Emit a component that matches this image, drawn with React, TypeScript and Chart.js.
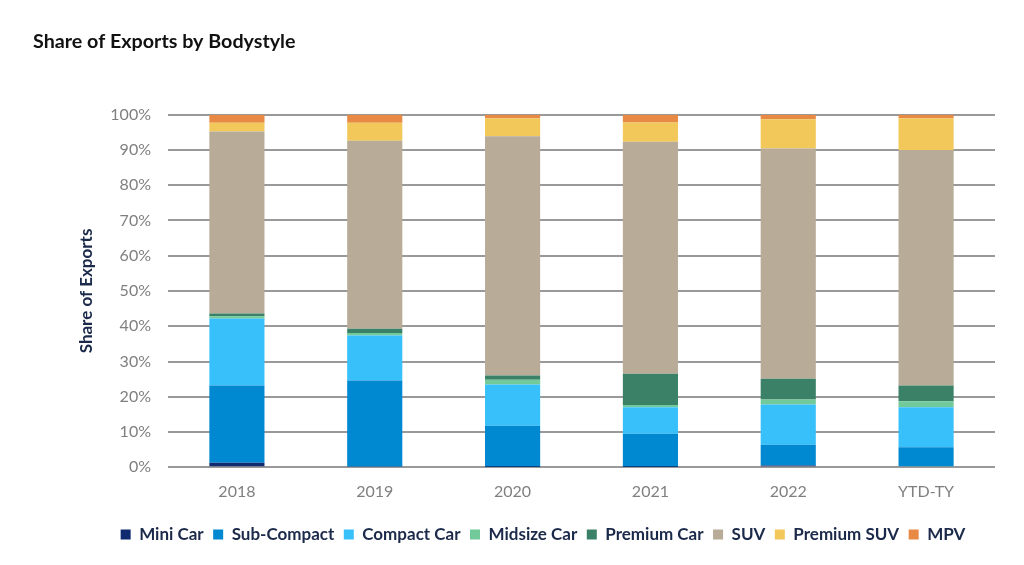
import React, { useEffect, useRef } from "react";
import { Chart, registerables } from "chart.js";

Chart.register(...registerables);

const categories = ["2018", "2019", "2020", "2021", "2022", "YTD-TY"];
const miniCar = [1.3, 0.2, 0.1, 0.1, 0.5, 0.3];
const subCompact = [21.9, 24.4, 11.7, 9.4, 5.9, 5.4];
const compactCar = [19.0, 12.8, 11.7, 7.5, 11.4, 11.3];
const midsizeCar = [0.6, 0.7, 1.3, 0.7, 1.4, 1.7];
const premiumCar = [0.8, 1.2, 1.2, 8.8, 5.9, 4.5];
const suv = [51.6, 53.3, 67.9, 65.8, 65.3, 66.8];
const premiumSuv = [2.5, 5.1, 5.1, 5.5, 8.3, 9.0];
const mpv = [2.3, 2.3, 1.0, 2.2, 1.3, 1.0];

const seriesNames = ["Mini Car", "Sub-Compact", "Compact Car", "Midsize Car", "Premium Car", "SUV", "Premium SUV", "MPV"];
const seriesValues = [miniCar, subCompact, compactCar, midsizeCar, premiumCar, suv, premiumSuv, mpv];
const seriesColors = ["#0f2a6e", "#0088d1", "#38c0fb", "#72c99a", "#3a8167", "#b8ab98", "#f2c85b", "#e88a44"];

const legendShift = {
  id: "legendShift",
  afterLayout(chart: any) {
    const lg = chart.legend;
    if (lg) {
      lg.left += 29;
      lg.right += 29;
    }
  },
};

export default function App() {
  const ref = useRef<HTMLCanvasElement | null>(null);
  useEffect(() => {
    if (!ref.current) return;
    const chart = new Chart(ref.current, {
      type: "bar",
      data: {
        labels: categories,
        datasets: seriesNames.map((n, i) => ({
          label: n,
          data: seriesValues[i],
          backgroundColor: seriesColors[i],
          borderWidth: 0,
          categoryPercentage: 1,
          barPercentage: 0.4,
        })),
      },
      plugins: [legendShift],
      options: {
        animation: false,
        responsive: true,
        maintainAspectRatio: false,
        layout: { padding: { left: 33, right: 29, top: 0, bottom: 12 } },
        plugins: {
          title: {
            display: true,
            text: "Share of Exports by Bodystyle",
            align: "start",
            color: "#111111",
            font: { family: "Lato", size: 19.7, weight: "bold" },
            padding: { top: 30, bottom: 61 },
          },
          legend: {
            position: "bottom",
            labels: {
              boxWidth: 10,
              boxHeight: 10,
              padding: 9.5,
              color: "#1b2a4a",
              font: { family: "Lato", size: 17, weight: "bold" },
            },
          },
          tooltip: { enabled: false },
        },
        scales: {
          x: {
            stacked: true,
            grid: { display: false, drawTicks: false },
            border: { display: false },
            ticks: { color: "#7f7f7f", font: { family: "Lato", size: 16 }, padding: 15 },
          },
          y: {
            stacked: true,
            min: 0,
            max: 100,
            afterFit: (s: any) => {
              s.width = 135;
            },
            grid: { color: "#999999", lineWidth: 2, drawTicks: false },
            border: { display: false },
            ticks: {
              stepSize: 10,
              color: "#7f7f7f",
              font: { family: "Lato", size: 16 },
              padding: 17,
              callback: (v: any) => v + "%",
            },
            title: {
              display: true,
              text: "Share of Exports",
              color: "#1b2a4a",
              font: { family: "Lato", size: 17, weight: "bold" },
              padding: { top: 43, bottom: 0 },
            },
          },
        },
      },
    });
    return () => chart.destroy();
  }, []);
  return (
    <div style={{ position: "absolute", left: 0, top: 0, width: 1024, height: 565, background: "#fff" }}>
      <canvas ref={ref} />
    </div>
  );
}
